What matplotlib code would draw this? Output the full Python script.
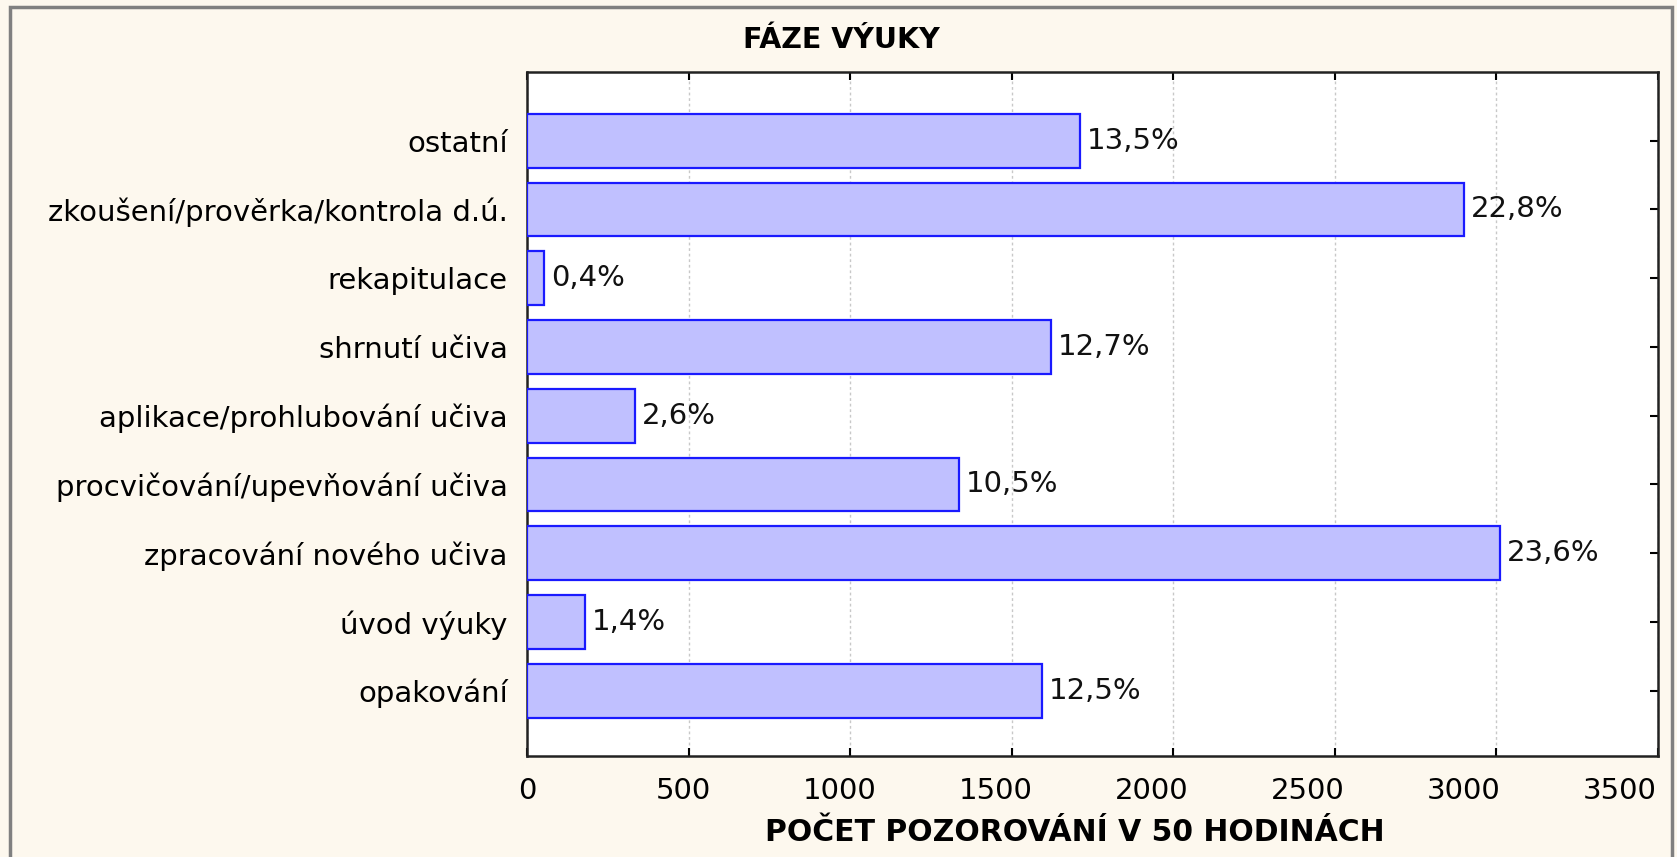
import matplotlib
matplotlib.use("Agg")
import matplotlib.pyplot as plt
from matplotlib.patches import Rectangle
from matplotlib.transforms import ScaledTranslation

plt.rcParams['font.family'] = ['DejaVu Sans']

categories = ["opakování", "úvod výuky", "zpracování nového učiva",
              "procvičování/upevňování učiva", "aplikace/prohlubování učiva",
              "shrnutí učiva", "rekapitulace", "zkoušení/prověrka/kontrola d.ú.",
              "ostatní"]
counts = [1592, 178, 3010, 1336, 333, 1620, 52, 2898, 1712]
percents = [12.5, 1.4, 23.6, 10.5, 2.6, 12.7, 0.4, 22.8, 13.5]
xticks = [0, 500, 1000, 1500, 2000, 2500, 3000, 3500]
title = "FÁZE VÝUKY"
xlabel = "POČET POZOROVÁNÍ V 50 HODINÁCH"

FS = 21

fig = plt.figure(figsize=(16.77, 8.57), dpi=100)
fig.patch.set_facecolor("#fdf8ee")
fig.patches.append(Rectangle((0.006, -0.01), 0.991, 1.002, transform=fig.transFigure,
                             fill=False, edgecolor="#808080", linewidth=2.5))

ax = fig.add_axes([0.3143, 0.1178, 0.6744, 0.7982])
ax.set_facecolor("white")
ypos = list(range(len(categories)))
ax.barh(ypos, counts, height=0.78, color="#c0c0ff", edgecolor="#1a1aff",
        linewidth=1.6, zorder=3)
for y, c, p in zip(ypos, counts, percents):
    ax.annotate(f"{p:.1f}%".replace(".", ","), xy=(c, y), xytext=(5, 0),
                textcoords="offset points", va="center", ha="left",
                fontsize=FS, color="#111111", zorder=4)

ax.set_xlim(0, 3500)
ax.set_ylim(-0.95, 9.0)
ax.set_xticks(xticks)
ax.set_yticks(ypos)
ax.set_yticklabels(categories)
ax.tick_params(axis="both", direction="in", length=6, width=1.5, labelsize=FS,
               top=True, right=True, colors="black")
ax.tick_params(axis="y", pad=14)
ax.tick_params(axis="x", pad=15)
# tick labels in the reference drift slightly left of their ticks
for v, lab in zip(xticks, ax.get_xticklabels()):
    dx = -(v / 3500.0) * 38 / 100.0
    lab.set_transform(lab.get_transform() + ScaledTranslation(dx, 0, fig.dpi_scale_trans))
ax.grid(axis="x", color="#c8c8c8", linestyle=(0, (2, 2)), linewidth=1, zorder=0)
for s in ax.spines.values():
    s.set_linewidth(1.8)
    s.set_color("#222222")

fig.text(0.502, 0.953, title, ha="center", va="center", fontsize=FS - 0.5,
         fontweight="bold")
fig.text(0.641, 0.029, xlabel, ha="center", va="center", fontsize=FS + 0.5,
         fontweight="bold")

fig.savefig("out.png", dpi=100, facecolor=fig.get_facecolor())
